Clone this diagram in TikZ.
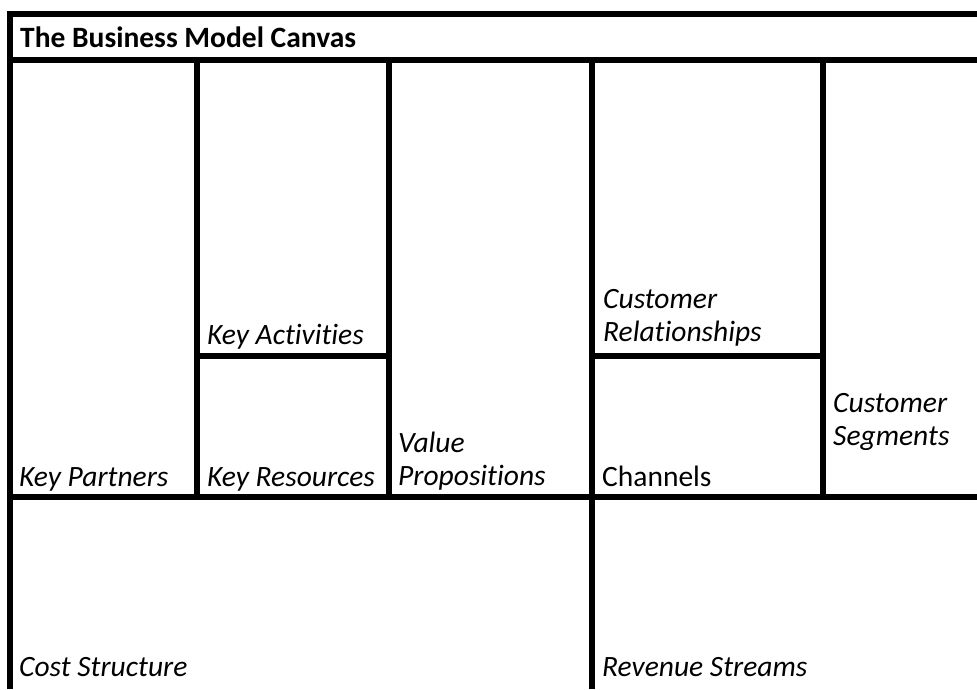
\documentclass[tikz,border=0pt]{standalone}
\usepackage{fontspec}
\setmainfont{Carlito}[RawFeature={-liga,-clig,-calt,-dlig}]
\begin{document}
\begin{tikzpicture}[x=1pt,y=-1pt,
  rule/.style={line width=6pt},
  cell/.style={anchor=base west, inner sep=0pt, align=left,
    font=\fontsize{29.5}{33}\selectfont\itshape},
  plaincell/.style={cell, font=\fontsize{29.5}{33}\selectfont\upshape},
  heading/.style={anchor=base west, inner sep=0pt,
    font=\fontsize{29.5}{33}\selectfont\bfseries}]
\useasboundingbox (0,0) rectangle (977,689);
\fill[white] (0,0) rectangle (977,689);

% outer frame and title bar
\draw[rule] (10,689) -- (10,14) -- (977,14);
\draw[rule] (10,60) -- (977,60);
% upper block columns
\draw[rule] (197,60) -- (197,497);
\draw[rule] (388.5,60) -- (388.5,497);
\draw[rule] (591.5,60) -- (591.5,689);
\draw[rule] (822.5,60) -- (822.5,497);
% splits inside columns two and four
\draw[rule] (197,355.5) -- (388.5,355.5);
\draw[rule] (591.5,355.5) -- (822.5,355.5);
% bottom band
\draw[rule] (10,497) -- (977,497);

% multi-line labels are placed by the baseline of their last line
\node[heading] (title) at (20,47) {The Business Model Canvas};
\node[cell] (kp) at (19,486) {Key Partners};
\node[cell] (ka) at (207,344) {Key Activities};
\node[cell] (kr) at (207,486) {Key Resources};
\node[cell] (vp) at (398,485) {Value\\Propositions};
\node[cell] (cr) at (603,341) {Customer\\Relationships};
\node[plaincell] (ch) at (602,486) {Channels};
\node[cell] (cs) at (833,445) {Customer\\Segments};
\node[cell] (cost) at (19,676) {Cost Structure};
\node[cell] (rev) at (602,676) {Revenue Streams};
\end{tikzpicture}
\end{document}
